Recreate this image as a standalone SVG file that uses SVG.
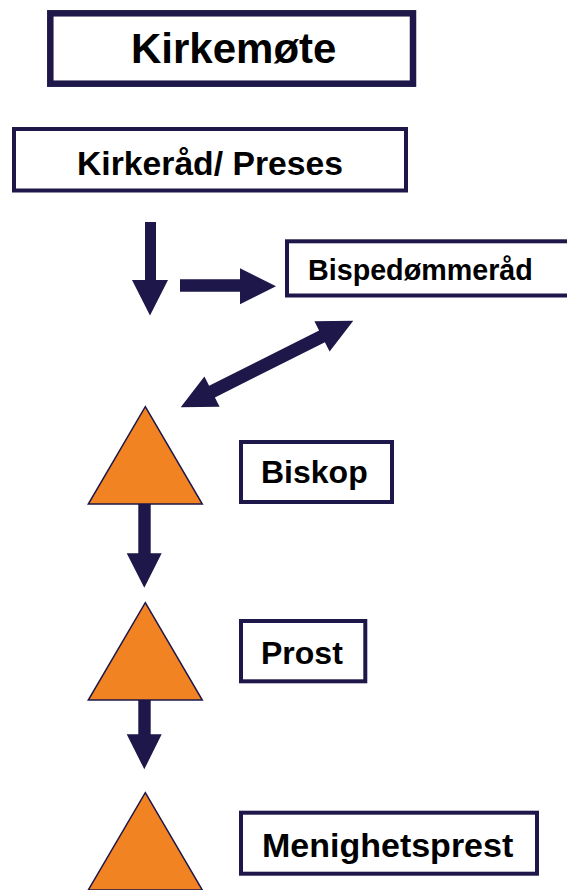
<svg xmlns="http://www.w3.org/2000/svg" width="567" height="890" viewBox="0 0 567 890">
<style>
.box{fill:#fff;stroke:#1E1749;stroke-width:4}
.tri{fill:#F28322;stroke:#1E1749;stroke-width:1.5}
.arr{fill:#1E1749}
text{font-family:"Liberation Sans",Arial,sans-serif;font-weight:bold;fill:#000}
</style>
<rect width="567" height="890" fill="#fff"/>
<g id="connectors">
<polygon class="arr" points="145,222 156,222 156,280 168,280 150,315.5 132,280 145,280"/>
<polygon class="arr" points="180,279.3 240,279.3 240,268.3 276,286.3 240,304.3 240,291.7 180,291.7"/>
<polygon class="arr" points="180.7,407.3 219.6,406.8 214.9,397.4 324.9,342.2 329.6,351.6 353.3,320.7 314.4,321.2 319.1,330.6 209.1,385.8 204.4,376.4"/>
<polygon class="arr" points="138.3,500 150.7,500 150.7,553.3 161.7,553.3 144.3,587.7 126.7,553.3 138.3,553.3"/>
<polygon class="arr" points="138.3,696 150.7,696 150.7,734.3 161.7,734.3 144.3,769.3 126.7,734.3 138.3,734.3"/>
</g>
<g id="kirkemote">
<rect class="box" x="50.3" y="13.3" width="362.7" height="70.4" style="stroke-width:6.5"/>
<text x="131" y="63" font-size="42">Kirkemøte</text>
</g>
<g id="kirkerad">
<rect class="box" x="14" y="129" width="392" height="61.5"/>
<text x="77" y="175" font-size="33.7">Kirkeråd/ Preses</text>
</g>
<g id="bispedommerad">
<rect class="box" x="287" y="241.3" width="300" height="54.2"/>
<text x="308" y="280" font-size="28.7">Bispedømmeråd</text>
</g>
<g id="biskop-tri"><polygon class="tri" points="145.3,406.7 202.3,504 88.3,504"/></g>
<g id="biskop">
<rect class="box" x="241" y="442" width="151" height="60"/>
<text x="261" y="483" font-size="32">Biskop</text>
</g>
<g id="prost-tri"><polygon class="tri" points="145.3,602.7 202.3,700 88.3,700"/></g>
<g id="prost">
<rect class="box" x="241" y="621" width="124.3" height="60.3"/>
<text x="261" y="664" font-size="32">Prost</text>
</g>
<g id="menighetsprest-tri"><polygon class="tri" points="145.3,792.7 202.3,890 88.3,890"/></g>
<g id="menighetsprest">
<rect class="box" x="241" y="812.7" width="296" height="61"/>
<text x="262" y="857" font-size="34">Menighetsprest</text>
</g>
</svg>
